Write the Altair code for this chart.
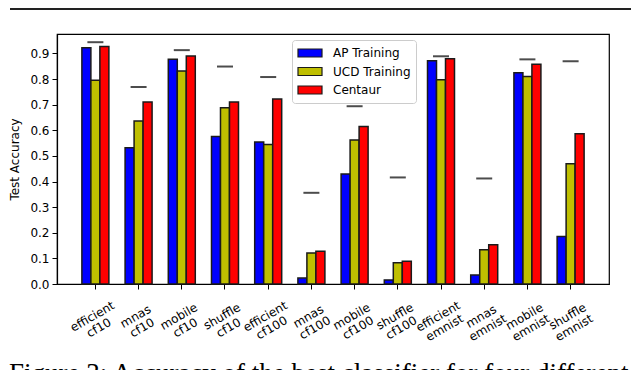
import altair as alt
import pandas as pd

categories = ["efficient cf10", "mnas cf10", "mobile cf10", "shuffle cf10",
              "efficient cf100", "mnas cf100", "mobile cf100", "shuffle cf100",
              "efficient emnist", "mnas emnist", "mobile emnist", "shuffle emnist"]
series = ["AP Training", "UCD Training", "Centaur"]
ap_training = [0.922, 0.532, 0.877, 0.576, 0.554, 0.023, 0.429, 0.016, 0.872, 0.035, 0.825, 0.185]
ucd_training = [0.795, 0.636, 0.832, 0.688, 0.545, 0.121, 0.562, 0.083, 0.797, 0.134, 0.810, 0.469]
centaur = [0.927, 0.711, 0.890, 0.711, 0.722, 0.128, 0.615, 0.089, 0.879, 0.153, 0.858, 0.587]
reference = [0.944, 0.769, 0.913, 0.849, 0.808, 0.356, 0.694, 0.416, 0.889, 0.412, 0.877, 0.870]
colors = ["#0000ff", "#bfbf00", "#ff0000"]
y_ticks = [0.0, 0.1, 0.2, 0.3, 0.4, 0.5, 0.6, 0.7, 0.8, 0.9]
caption = "Figure 3: Accuracy of the best classifier for four different"

rows = []
for name, vals in zip(series, [ap_training, ucd_training, centaur]):
    for c, v in zip(categories, vals):
        rows.append({"category": c, "series": name, "value": v})
bar_df = pd.DataFrame(rows)
ref_df = pd.DataFrame({"category": categories, "value": reference})

x_enc = alt.X(
    "category:N", sort=categories, title=None,
    scale=alt.Scale(paddingInner=0.375, paddingOuter=0.576),
    axis=alt.Axis(labelAngle=-30, labelAlign="center", labelBaseline="middle",
                  labelPadding=27, labelOffset=-3, labelExpr="split(datum.label, ' ')",
                  labelLineHeight=13, labelOverlap=False, labelBound=False),
)
y_enc = alt.Y(
    "value:Q", title="Test Accuracy",
    scale=alt.Scale(domain=[0, 0.976], nice=False, zero=True),
    axis=alt.Axis(values=y_ticks, format=".1f", labelPadding=3, titlePadding=8,
                  labelOverlap=False),
)

bars = alt.Chart(bar_df).mark_bar(stroke="#1a1a1a", strokeWidth=1.5).encode(
    x=x_enc,
    xOffset=alt.XOffset("series:N", sort=series,
                        scale=alt.Scale(paddingInner=0, paddingOuter=0)),
    y=y_enc,
    color=alt.Color(
        "series:N", sort=series,
        scale=alt.Scale(domain=series, range=colors),
        legend=alt.Legend(
            title=None, orient="none", legendX=235, legendY=6,
            symbolType="M-1,-0.333H1V0.333H-1Z", symbolSize=576,
            symbolStrokeColor="#1a1a1a", symbolStrokeWidth=1.2,
            labelFontSize=12, labelFont="DejaVu Sans", labelColor="black",
            labelOffset=10, rowPadding=2.5, clipHeight=16, padding=5,
            fillColor="white", strokeColor="#cccccc", cornerRadius=3,
        ),
    ),
)

ticks = alt.Chart(ref_df).mark_tick(color="black", thickness=2, size=16).encode(
    x=x_enc,
    y=y_enc,
)

border = alt.Chart(pd.DataFrame({"a": [0]})).mark_rule(color="#222222", strokeWidth=2).encode(
    x=alt.value(-47), x2=alt.value(574), y=alt.value(-25)
)

chart = alt.layer(bars, ticks, border).properties(
    width=552, height=250,
    padding={"left": 0, "top": 0, "right": 0, "bottom": 0},
    title=alt.TitleParams(caption, orient="bottom", anchor="start", frame="bounds",
                          font="Liberation Serif", fontSize=27, fontWeight="normal",
                          color="black", offset=16),
).configure_view(stroke="black", strokeWidth=1.2).configure_axis(
    domainColor="black", tickColor="black", labelColor="black", titleColor="black",
    labelFont="DejaVu Sans", titleFont="DejaVu Sans", labelFontSize=12,
    titleFontSize=12, titleFontWeight="normal", grid=False, tickSize=5, domainWidth=1.2,
)

chart.save("out.html", embed_options={"renderer": "svg", "actions": False})
